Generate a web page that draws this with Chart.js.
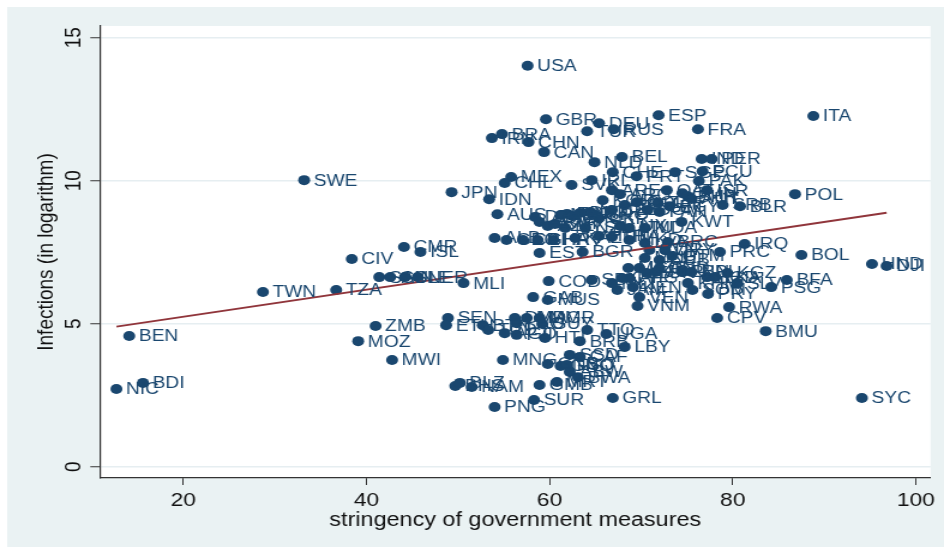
<!DOCTYPE html>
<html>
<head>
<meta charset="utf-8">
<title>Infections vs stringency</title>
<script src="https://cdn.jsdelivr.net/npm/chart.js@4.4.1/dist/chart.umd.min.js"></script>
<style>
  html, body { margin: 0; padding: 0; background: #fff; }
  #chart { display: block; }
</style>
</head>
<body>
<!-- drawn at 787px wide and stretched to 944px, like the reference image -->
<canvas id="chart" width="787" height="548"></canvas>
<script>
const countries = [
  'NIC', 'BDI', 'BEN', 'TWN', 'SWE', 'TZA', 'CIV', 'ZMB', 'MOZ', 'MWI',
  'CMR', 'ISL', 'SAU', 'GIN', 'SLE', 'NER', 'MLI', 'SEN', 'ETH', 'BTN',
  'TCD', 'AGO', 'DMA', 'LAO', 'MDG', 'MMR', 'GUY', 'FJI', 'HTI', 'TTO',
  'UGA', 'BRB', 'LBY', 'MNG', 'SSD', 'CAF', 'GNB', 'GNQ', 'LSO', 'ABW',
  'BWA', 'BHS', 'BLZ', 'NAM', 'GMB', 'MRT', 'SUR', 'PNG', 'GRL', 'SYC',
  'USA', 'GBR', 'DEU', 'TUR', 'RUS', 'ESP', 'FRA', 'ITA', 'IRN', 'BRA',
  'CHN', 'CAN', 'NLD', 'BEL', 'CHE', 'PRT', 'SGP', 'IND', 'PER', 'ECU',
  'PAK', 'ISR', 'QAT', 'OMN', 'BHR', 'AUT', 'SRB', 'BLR', 'POL', 'MEX',
  'CHL', 'JPN', 'IDN', 'AUS', 'SVK', 'IRL', 'ARE', 'ARG', 'KOR', 'DOM',
  'KWT', 'MDA', 'COL', 'ZAF', 'EGY', 'PAN', 'ROU', 'CZE', 'NOR', 'DNK',
  'FIN', 'HUN', 'MAR', 'DZA', 'ARM', 'AZE', 'BIH', 'PHL', 'GRC', 'UKR',
  'LUX', 'EST', 'BGR', 'ALB', 'GEO', 'CRI', 'GHA', 'HRV', 'KAZ', 'THA',
  'MKD', 'LTU', 'LVA', 'BRC', 'IRQ', 'PRC', 'BOL', 'HND', 'DJI', 'SVN',
  'URY', 'GTM', 'CUB', 'MNE', 'UZB', 'KGZ', 'TUN', 'JOR', 'LBN', 'NPL',
  'BGD', 'LKA', 'AFG', 'SLV', 'BFA', 'PSG', 'PRY', 'KHM', 'SOM', 'RWA',
  'CPV', 'BMU', 'JAM', 'KEN', 'VEN', 'VNM', 'COD', 'SDN', 'GAB', 'MUS',
  'MLT', 'CYP', 'MCO', 'AND', 'NZL', 'MYS'
];
const stringency = [
  12.7, 15.6, 14.1, 28.7, 33.2, 36.7, 38.4, 41.0, 39.1, 42.8,
  44.1, 45.9, 41.4, 42.6, 44.2, 45.6, 50.6, 48.9, 48.7, 52.7,
  53.3, 55.1, 56.2, 56.4, 57.5, 58.9, 59.2, 56.4, 59.5, 64.1,
  66.2, 63.3, 68.2, 54.9, 62.2, 63.3, 59.8, 61.2, 61.9, 62.2,
  63.1, 49.7, 50.2, 51.5, 58.9, 60.8, 58.3, 54.0, 66.9, 94.1,
  57.6, 59.6, 65.4, 64.1, 67.0, 71.9, 76.2, 88.8, 53.7, 54.8,
  57.7, 59.4, 64.9, 67.9, 66.9, 69.5, 73.7, 76.6, 77.7, 76.7,
  76.3, 77.2, 72.8, 74.5, 75.1, 75.5, 78.9, 80.8, 86.8, 55.8,
  55.1, 49.3, 53.4, 54.3, 62.4, 64.6, 66.8, 67.7, 65.8, 70.7,
  74.4, 70.4, 69.5, 71.8, 73.1, 72.0, 68.2, 66.8, 64.4, 63.3,
  61.9, 65.4, 61.2, 58.4, 58.9, 59.8, 60.6, 62.5, 65.0, 65.4,
  67.7, 58.9, 63.6, 54.0, 55.3, 57.1, 58.7, 60.4, 62.8, 66.8,
  68.7, 68.7, 70.4, 72.9, 81.3, 78.6, 87.5, 95.2, 96.8, 70.9,
  72.6, 73.4, 72.0, 70.4, 69.8, 79.4, 70.6, 71.6, 74.5, 75.5,
  77.2, 78.1, 68.7, 80.5, 85.9, 84.2, 77.3, 75.1, 75.6, 79.6,
  78.3, 83.6, 67.4, 69.1, 69.8, 69.6, 59.9, 64.6, 58.2, 59.8,
  66.8, 67.9, 68.6, 72.0, 63.9, 61.7
];
const infections = [
  2.72, 2.93, 4.57, 6.11, 10.02, 6.18, 7.26, 4.92, 4.39, 3.73,
  7.68, 7.51, 6.63, 6.63, 6.63, 6.63, 6.42, 5.20, 4.95, 4.95,
  4.78, 4.67, 5.20, 5.02, 5.20, 5.20, 4.99, 4.61, 4.50, 4.78,
  4.64, 4.39, 4.19, 3.73, 3.91, 3.84, 3.59, 3.52, 3.56, 3.31,
  3.13, 2.82, 2.93, 2.79, 2.86, 2.96, 2.33, 2.09, 2.40, 2.40,
  14.02, 12.15, 12.01, 11.73, 11.80, 12.29, 11.80, 12.26, 11.49, 11.63,
  11.35, 11.00, 10.65, 10.83, 10.30, 10.16, 10.30, 10.76, 10.76, 10.33,
  9.99, 9.67, 9.67, 9.56, 9.46, 9.36, 9.15, 9.11, 9.53, 10.13,
  9.92, 9.60, 9.35, 8.83, 9.85, 10.02, 9.67, 9.53, 9.32, 8.98,
  8.56, 8.35, 9.25, 9.22, 9.11, 8.91, 9.15, 8.98, 8.91, 8.87,
  8.84, 8.07, 8.80, 8.73, 8.56, 8.42, 8.49, 8.77, 8.80, 8.69,
  8.42, 7.47, 7.51, 8.00, 7.93, 7.93, 7.93, 7.93, 8.00, 8.03,
  7.93, 8.35, 7.82, 7.86, 7.79, 7.51, 7.40, 7.09, 7.02, 7.58,
  7.58, 7.37, 7.23, 7.30, 6.95, 6.77, 6.77, 6.81, 6.81, 6.81,
  6.63, 6.63, 6.60, 6.42, 6.53, 6.28, 6.04, 6.42, 6.18, 5.58,
  5.20, 4.74, 6.18, 6.28, 5.93, 5.62, 6.49, 6.53, 5.93, 5.83,
  6.42, 6.60, 6.95, 6.95, 8.35, 8.35
];

// fitted line
const fitX = [12.7, 96.8];
const fitY = [4.90, 8.88];

const xTicks = [20, 40, 60, 80, 100];
const yTicks = [0, 5, 10, 15];

const NAVY = '#1a476f';
const FONT = 'Liberation Sans, Arial, Helvetica, sans-serif';

const frame = {
  id: 'frame',
  beforeDraw(chart) {
    const { ctx, chartArea: a } = chart;
    ctx.save();
    ctx.fillStyle = '#eaf2f3';
    ctx.fillRect(6, 7, chart.width - 6, chart.height - 8);
    ctx.fillStyle = '#fff';
    ctx.fillRect(a.left, a.top, a.right - a.left, a.bottom - a.top);
    ctx.restore();
  }
};

const pointLabels = {
  id: 'pointLabels',
  afterDatasetsDraw(chart) {
    const ctx = chart.ctx;
    const meta = chart.getDatasetMeta(0);
    ctx.save();
    ctx.font = `16px ${FONT}`;
    ctx.fillStyle = NAVY;
    ctx.textBaseline = 'middle';
    meta.data.forEach((pt, i) => {
      ctx.fillText(countries[i], pt.x + 8, pt.y + 1);
    });
    ctx.restore();
  }
};

// Stata style: y tick labels turned 90 degrees
const yLabels = {
  id: 'yLabels',
  afterDraw(chart) {
    const ctx = chart.ctx;
    const y = chart.scales.y;
    ctx.save();
    ctx.font = `19px ${FONT}`;
    ctx.fillStyle = '#111';
    ctx.textAlign = 'center';
    ctx.textBaseline = 'middle';
    yTicks.forEach(v => {
      ctx.save();
      ctx.translate(62, y.getPixelForValue(v));
      ctx.rotate(-Math.PI / 2);
      ctx.fillText(String(v), 0, 0);
      ctx.restore();
    });
    ctx.restore();
  }
};

const chart = new Chart(document.getElementById('chart'), {
  type: 'scatter',
  data: {
    datasets: [
      {
        data: stringency.map((x, i) => ({ x, y: infections[i] })),
        backgroundColor: NAVY,
        borderWidth: 0,
        pointRadius: 5,
        pointHoverRadius: 5,
        order: 1,
      },
      {
        type: 'line',
        data: fitX.map((x, i) => ({ x, y: fitY[i] })),
        borderColor: '#90353b',
        borderWidth: 1.8,
        pointRadius: 0,
        fill: false,
        order: 0,
      },
    ],
  },
  options: {
    responsive: false,
    animation: false,
    layout: { padding: { left: 6, top: 26, right: 11.2, bottom: 0 } },
    plugins: { legend: { display: false }, tooltip: { enabled: false } },
    scales: {
      x: {
        type: 'linear',
        min: 10.9,
        max: 101.6,
        afterBuildTicks: s => { s.ticks = xTicks.map(v => ({ value: v })); },
        afterFit: s => { s.height = 70; },
        grid: { drawOnChartArea: false, tickLength: 7, tickColor: '#333', tickWidth: 1 },
        border: { color: '#333', width: 1.2 },
        ticks: { color: '#111', font: { family: FONT, size: 19 }, padding: 4, maxRotation: 0, autoSkip: false },
        title: {
          display: true,
          text: 'stringency of government measures',
          color: '#111',
          font: { family: FONT, size: 19.5 },
          padding: { top: 0, bottom: 16 },
        },
      },
      y: {
        type: 'linear',
        min: -0.395,
        max: 15.41,
        afterBuildTicks: s => { s.ticks = yTicks.map(v => ({ value: v })); },
        afterFit: s => { s.width = 77.3; },
        grid: { color: '#e6eef1', lineWidth: 1.5, tickLength: 8, tickColor: '#333', tickWidth: 1 },
        border: { color: '#333', width: 1.2 },
        ticks: { display: false },
        title: {
          display: true,
          text: 'Infections (in logarithm)',
          color: '#111',
          font: { family: FONT, size: 19 },
          padding: { top: 21, bottom: 0 },
        },
      },
    },
  },
  plugins: [frame, pointLabels, yLabels],
});

// stretch horizontally to the 944px window
chart.canvas.style.width = '944px';
chart.canvas.style.height = '548px';
</script>
</body>
</html>
